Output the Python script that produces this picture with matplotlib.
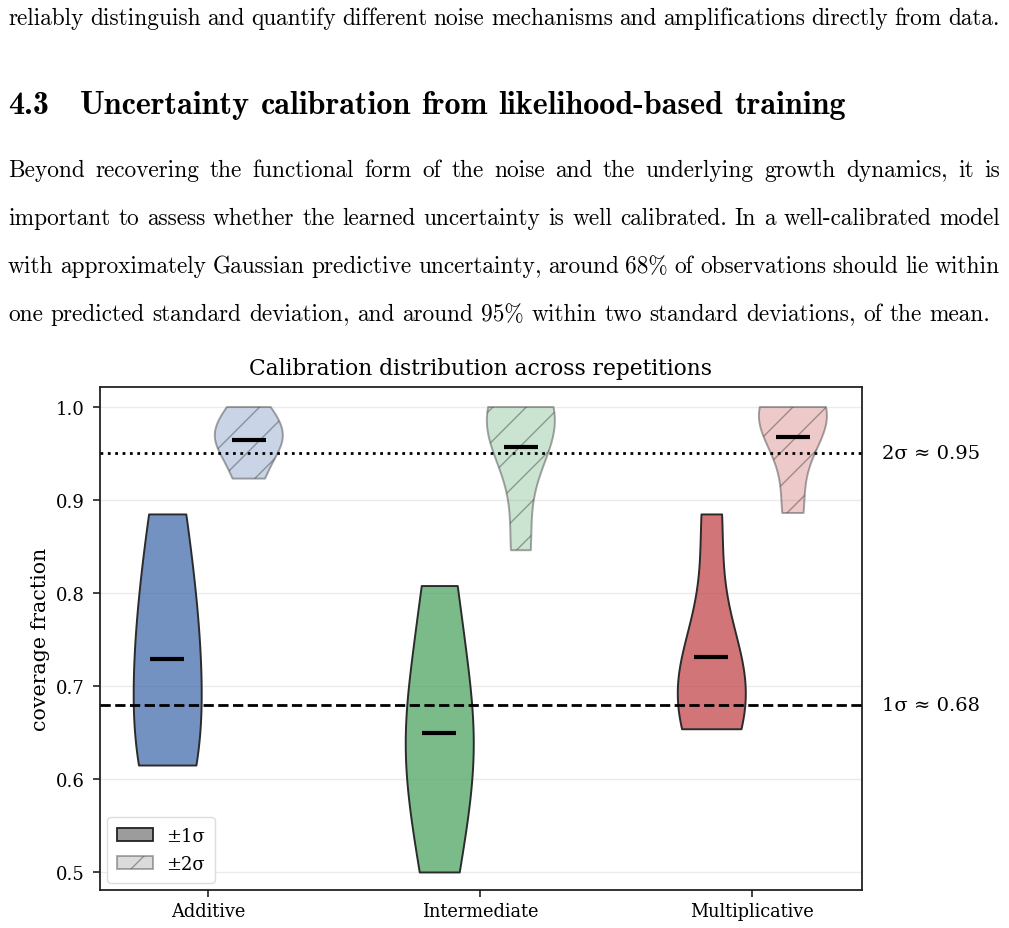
import matplotlib
matplotlib.use("Agg")
import matplotlib.pyplot as plt
import matplotlib.transforms as mtransforms
from matplotlib.patches import Patch
import numpy as np

# ---------------- data ----------------
categories = ["Additive", "Intermediate", "Multiplicative"]
additive_1s = [0.615, 0.635, 0.73, 0.78, 0.885]
additive_2s = [0.923, 0.955, 0.965, 0.98, 1.0]
intermediate_1s = [0.50, 0.60, 0.64, 0.70, 0.808]
intermediate_2s = [0.846, 0.955, 0.985, 1.0, 1.0]
multiplicative_1s = [0.654, 0.68, 0.70, 0.735, 0.885]
multiplicative_2s = [0.886, 0.96, 0.995, 1.0, 1.0]
ref_levels = [0.68, 0.95]
ref_labels = ["1σ ≈ 0.68", "2σ ≈ 0.95"]
legend_labels = ["±1σ", "±2σ"]
yticks = [0.5, 0.6, 0.7, 0.8, 0.9, 1.0]
title = "Calibration distribution across repetitions"
ylabel = "coverage fraction"

text_line_top = "reliably distinguish and quantify different noise mechanisms and amplifications directly from data."
heading_num = "4.3"
heading_text = "Uncertainty calibration from likelihood-based training"
paragraph = [
    "Beyond recovering the functional form of the noise and the underlying growth dynamics, it is",
    "important to assess whether the learned uncertainty is well calibrated. In a well-calibrated model",
    "with approximately Gaussian predictive uncertainty, around 68% of observations should lie within",
    "one predicted standard deviation, and around 95% within two standard deviations, of the mean.",
]

colors = ["#4C72B0", "#55A868", "#C44E52"]

W, H = 1009, 929
fig = plt.figure(figsize=(W / 100, H / 100), dpi=100)
renderer = fig.canvas.get_renderer()


def _mk(s, y_base, fontsize, family, weight):
    return fig.text(0, 1 - y_base / H, s, fontsize=fontsize, family=family,
                    weight=weight, va="baseline", ha="left")


def place_words(words, x0, y_base, fontsize, family, weight="normal", x1=None):
    # each word may carry a trailing comma, drawn as its own text piece
    groups = []
    for w in words:
        if w.endswith(",") and len(w) > 1:
            parts = [w[:-1], ","]
        else:
            parts = [w]
        objs = [_mk(p, y_base, fontsize, family, weight) for p in parts]
        ws = [o.get_window_extent(renderer).width for o in objs]
        groups.append((objs, ws))
    sp = fig.text(0, 0, "a b", fontsize=fontsize, family=family, weight=weight)
    sp2 = fig.text(0, 0, "ab", fontsize=fontsize, family=family, weight=weight)
    space = sp.get_window_extent(renderer).width - sp2.get_window_extent(renderer).width
    sp.remove(); sp2.remove()
    total = sum(sum(ws) for _, ws in groups)
    if x1 is not None and len(groups) > 1:
        gap = (x1 - x0 - total) / (len(groups) - 1)
    else:
        gap = space
    x = x0
    for objs, ws in groups:
        for o, w in zip(objs, ws):
            o.set_x(x / W)
            x += w
        x += gap


def natural_width(words, fontsize, family, weight="normal"):
    t = fig.text(0, 0, " ".join(words), fontsize=fontsize, family=family, weight=weight)
    w = t.get_window_extent(renderer).width
    t.remove()
    return w

body_family = "cmr10"
bold_family = "cmb10"

fs = 14.0
w0 = natural_width(paragraph[-1].split(), fs, body_family)
fs = fs * (992 - 8) / w0

place_words(text_line_top.split(), 8, 25, fs, body_family, x1=1000)
for i, line in enumerate(paragraph):
    yb = 177 + 48 * i
    if i < len(paragraph) - 1:
        place_words(line.split(), 8, yb, fs, body_family, x1=1000)
    else:
        place_words(line.split(), 8, yb, fs, body_family)

hfs = 16.0
hw = natural_width(heading_text.split(), hfs, bold_family, "bold")
hfs = hfs * (845 - 80) / hw
place_words([heading_num], 8, 114, hfs, bold_family, "bold")
place_words(heading_text.split(), 80, 114, hfs, bold_family, "bold")

# ---------------- chart ----------------
ax_l, ax_r, ax_t, ax_b = 100, 862, 388, 891
ax = fig.add_axes([ax_l / W, 1 - ax_b / H, (ax_r - ax_l) / W, (ax_b - ax_t) / H])

data_1s = [additive_1s, intermediate_1s, multiplicative_1s]
data_2s = [additive_2s, intermediate_2s, multiplicative_2s]
pos = np.arange(len(categories))
off = 0.15
vw = 0.25

ax.yaxis.grid(True, color="#ebebeb", lw=1.0)
ax.set_axisbelow(True)

matplotlib.rcParams["hatch.color"] = (0.3, 0.3, 0.3, 0.65)
matplotlib.rcParams["hatch.linewidth"] = 1.0

for i in range(len(categories)):
    v1 = ax.violinplot([data_1s[i]], positions=[pos[i] - off], widths=vw,
                       showextrema=False, showmeans=False)
    for b in v1["bodies"]:
        b.set_alpha(None)
        b.set_facecolor(matplotlib.colors.to_rgba(colors[i], 0.78))
        b.set_edgecolor("#2b2b2b")
        b.set_linewidth(1.4)
        b.set_zorder(2)
    v2 = ax.violinplot([data_2s[i]], positions=[pos[i] + off], widths=vw,
                       showextrema=False, showmeans=False)
    for b in v2["bodies"]:
        b.set_alpha(None)
        b.set_facecolor(matplotlib.colors.to_rgba(colors[i], 0.3))
        b.set_edgecolor((0.3, 0.3, 0.3, 0.5))
        b.set_linewidth(1.4)
        b.set_hatch("/")
        b.set_zorder(2)
    ax.hlines(np.mean(data_1s[i]), pos[i] - off - 0.0625, pos[i] - off + 0.0625,
              color="black", lw=3, zorder=5)
    ax.hlines(np.mean(data_2s[i]), pos[i] + off - 0.0625, pos[i] + off + 0.0625,
              color="black", lw=3, zorder=5)

ax.axhline(ref_levels[0], color="black", ls="--", lw=2, zorder=3)
ax.axhline(ref_levels[1], color="black", ls=":", lw=2, zorder=3)

trans = mtransforms.blended_transform_factory(ax.transAxes, ax.transData)
for lvl, lab in zip(ref_levels, ref_labels):
    ax.text(1.026, lvl, lab, transform=trans, va="center", ha="left",
            fontsize=14, family="DejaVu Serif")

ax.set_xlim(-0.397, 2.404)
ax.set_ylim(0.4806, 1.0215)
ax.set_xticks(pos)
ax.set_xticklabels(categories, fontsize=12.8, family="DejaVu Serif")
ax.set_yticks(yticks)
ax.set_yticklabels([f"{t:.1f}" for t in yticks], fontsize=13, family="DejaVu Serif")
ax.set_ylabel(ylabel, fontsize=14.8, family="DejaVu Serif")
ax.yaxis.set_label_coords(-0.066, 0.5)
ax.set_title(title, fontsize=15.7, family="DejaVu Serif", pad=9)
for s in ax.spines.values():
    s.set_color("#222222")
    s.set_linewidth(1.3)
ax.tick_params(axis="y", length=5, width=1.2, color="#222222", pad=6)
ax.tick_params(axis="x", length=5, width=1.2, color="#222222", pad=4)

handles = [
    Patch(facecolor=(0.45, 0.45, 0.45, 0.7), edgecolor="#222222", lw=1.3, label=legend_labels[0]),
    Patch(facecolor=(0.6, 0.6, 0.6, 0.35), edgecolor=(0.3, 0.3, 0.3, 0.5), lw=1.3,
          hatch="/", label=legend_labels[1]),
]
leg = ax.legend(handles=handles, loc="lower left", prop={"family": "DejaVu Serif", "size": 13},
                frameon=True, framealpha=1.0, edgecolor="#dddddd", handlelength=2.0,
                handleheight=0.7, borderpad=0.55, labelspacing=0.55, handletextpad=0.7,
                borderaxespad=0.4)

fig.savefig("out.png", dpi=100)
